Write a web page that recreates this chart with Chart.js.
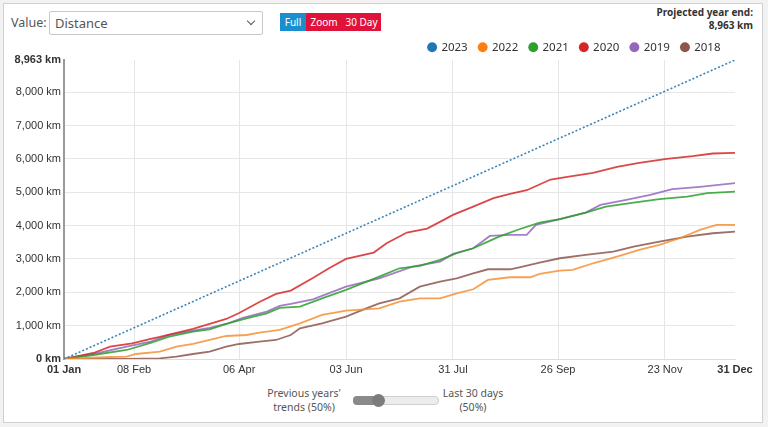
<!DOCTYPE html>
<html>
<head>
<meta charset="utf-8">
<script src="https://cdn.jsdelivr.net/npm/chart.js@4.4.0/dist/chart.umd.min.js"></script>
<style>
  html, body { margin: 0; padding: 0; background: #f2f2f2; }
  body { width: 768px; height: 427px; position: relative; overflow: hidden; font-family: "Noto Sans", "Open Sans", sans-serif; }
  #panel { position: absolute; left: 3px; top: 3px; width: 758px; height: 418px; background: #fff; border: 1px solid #d0d0d0; }
  .abs { position: absolute; }
  #valueLbl { left: 11px; top: 14px; font-size: 12.5px; color: #555; }
  #sel { left: 49px; top: 11px; width: 212px; height: 22px; border: 1px solid #c8c8c8; border-radius: 2px; background: #fff; }
  #sel span { position: absolute; left: 5px; top: 2px; font-size: 13px; color: #555; }
  #chev { position: absolute; right: 8px; top: 6px; width: 5px; height: 5px; border-right: 1.6px solid #555; border-bottom: 1.6px solid #555; transform: rotate(45deg); }
  .btn { top: 13px; height: 18px; line-height: 18px; font-size: 10px; color: #fff; text-align: center; }
  #bFull { left: 280px; width: 26px; background: #1b8fce; }
  #bZoom { left: 306px; width: 36px; background: #e0123a; }
  #b30 { left: 342px; width: 39px; background: #e0123a; }
  #proj { right: 15px; top: 6px; text-align: right; font-size: 10px; font-weight: bold; color: #333; line-height: 13px; }
  .slabel { font-size: 10.5px; color: #555; text-align: center; line-height: 14px; }
  #sl1 { left: 254px; top: 386px; width: 100px; }
  #sl2 { left: 423px; top: 386px; width: 100px; }
  #track { left: 353px; top: 396px; width: 84px; height: 7px; border-radius: 4px; background: #ececec; border: 1px solid #d0d0d0; }
  #fill { left: 353px; top: 396px; width: 26px; height: 9px; border-radius: 4px; background: #8a8a8a; }
  #thumb { left: 372px; top: 394px; width: 13px; height: 13px; border-radius: 50%; background: #7c7c7c; }
  #wrap { position: absolute; left: 0; top: 30px; width: 760px; height: 355px; }
</style>
</head>
<body>
<div id="panel"></div>
<div class="abs" id="valueLbl">Value:</div>
<div class="abs" id="sel"><span>Distance</span><div id="chev"></div></div>
<div class="abs btn" id="bFull">Full</div>
<div class="abs btn" id="bZoom">Zoom</div>
<div class="abs btn" id="b30">30 Day</div>
<div class="abs" id="proj">Projected year end:<br>8,963 km</div>
<div id="wrap"><canvas id="c" width="760" height="355"></canvas></div>
<div class="abs slabel" id="sl1">Previous years'<br>trends (50%)</div>
<div class="abs" id="track"></div>
<div class="abs" id="fill"></div>
<div class="abs" id="thumb"></div>
<div class="abs slabel" id="sl2">Last 30 days<br>(50%)</div>
<script>
// ---- data (day of year, cumulative km) ----
const xTickDays = [0, 38, 95, 153, 211, 268, 326, 364];
const xTickLabels = ["01 Jan", "08 Feb", "06 Apr", "03 Jun", "31 Jul", "26 Sep", "23 Nov", "31 Dec"];
const yTickValues = [0, 1000, 2000, 3000, 4000, 5000, 6000, 7000, 8000, 8963];

const days2023 = [0, 364];
const km2023 = [0, 8963];

const days2022 = [0, 25, 34, 39, 52, 61, 70, 79, 88, 99, 106, 117, 128, 140, 153, 171, 182, 193, 204, 213, 222, 230, 242, 253, 258, 269, 276, 287, 300, 312, 323, 334, 345, 354, 364];
const km2022 = [0, 60, 70, 150, 220, 370, 450, 570, 690, 720, 790, 870, 1070, 1320, 1450, 1520, 1720, 1820, 1820, 1970, 2090, 2370, 2450, 2450, 2550, 2650, 2670, 2870, 3070, 3270, 3420, 3620, 3870, 4020, 4020];

const days2021 = [0, 16, 34, 47, 57, 70, 79, 88, 99, 110, 117, 128, 140, 153, 171, 182, 193, 204, 213, 222, 230, 236, 247, 258, 269, 283, 294, 309, 323, 338, 349, 364];
const km2021 = [0, 120, 270, 480, 670, 820, 890, 1050, 1220, 1370, 1530, 1570, 1820, 2070, 2470, 2720, 2790, 2970, 3170, 3320, 3520, 3670, 3890, 4090, 4190, 4390, 4570, 4690, 4790, 4870, 4970, 5020];

const days2020 = [0, 16, 25, 37, 47, 52, 70, 79, 88, 95, 106, 115, 123, 135, 144, 153, 168, 175, 186, 197, 206, 211, 222, 233, 242, 251, 264, 273, 287, 300, 312, 327, 341, 352, 364];
const km2020 = [0, 180, 370, 470, 600, 660, 900, 1050, 1200, 1380, 1710, 1950, 2050, 2430, 2730, 3000, 3190, 3470, 3790, 3910, 4170, 4320, 4570, 4820, 4950, 5060, 5380, 5460, 5580, 5760, 5880, 6000, 6080, 6160, 6180];

const days2019 = [0, 16, 34, 47, 57, 70, 79, 88, 97, 110, 117, 123, 135, 153, 171, 189, 204, 211, 222, 231, 242, 251, 256, 269, 283, 291, 305, 318, 330, 345, 364];
const km2019 = [0, 150, 370, 520, 720, 850, 930, 1050, 1230, 1420, 1590, 1650, 1790, 2170, 2420, 2770, 2920, 3150, 3320, 3690, 3720, 3720, 4020, 4190, 4390, 4620, 4770, 4920, 5090, 5160, 5270];

const days2018 = [0, 34, 52, 61, 70, 79, 88, 95, 106, 115, 123, 128, 140, 153, 164, 171, 182, 193, 204, 213, 222, 230, 242, 247, 258, 269, 283, 298, 309, 323, 338, 352, 364];
const km2018 = [0, 0, 20, 70, 150, 220, 370, 450, 520, 570, 720, 920, 1070, 1270, 1520, 1670, 1820, 2170, 2320, 2420, 2570, 2690, 2690, 2750, 2890, 3020, 3120, 3220, 3370, 3520, 3670, 3770, 3820];

const pts = (d, k) => d.map((x, i) => ({ x: x, y: k[i] }));
const line = (label, d, k, color, lineColor, extra) => Object.assign({
  label: label, data: pts(d, k), borderColor: lineColor, backgroundColor: color,
  borderWidth: 1.8, pointRadius: 0, pointHoverRadius: 0, tension: 0, fill: false
}, extra || {});

const datasets = [
  line("2023", days2023, km2023, "#1f77b4", "#3b84b8", { borderDash: [2, 2], borderWidth: 1.6 }),
  line("2022", days2022, km2022, "#ff7f0e", "rgba(245,145,50,0.85)"),
  line("2021", days2021, km2021, "#2ca02c", "rgba(44,160,44,0.85)"),
  line("2020", days2020, km2020, "#d62728", "rgba(214,39,40,0.85)"),
  line("2019", days2019, km2019, "#9467bd", "rgba(148,103,189,0.85)"),
  line("2018", days2018, km2018, "#8c564b", "rgba(140,86,75,0.85)")
];

const fmt = v => v.toLocaleString("en-US") + " km";
const baseGen = Chart.defaults.plugins.legend.labels.generateLabels;

new Chart(document.getElementById("c"), {
  type: "line",
  data: { datasets: datasets },
  options: {
    responsive: false,
    animation: false,
    events: [],
    layout: { padding: { left: 0, right: 25, top: 0, bottom: 0 } },
    plugins: {
      tooltip: { enabled: false },
      legend: {
        position: "top",
        align: "end",
        labels: {
          usePointStyle: true,
          pointStyle: "circle",
          boxWidth: 7,
          boxHeight: 7,
          padding: 11.5,
          color: "#333",
          font: { family: "'Noto Sans', sans-serif", size: 11.5 },
          generateLabels: chart => baseGen(chart).map(l => Object.assign(l, { lineWidth: 0, lineDash: [], strokeStyle: "rgba(0,0,0,0)" }))
        }
      }
    },
    scales: {
      x: {
        type: "linear", min: 0, max: 364,
        afterBuildTicks: s => { s.ticks = xTickDays.map(v => ({ value: v })); },
        afterFit: s => { s.height = 26; },
        ticks: {
          autoSkip: false, maxRotation: 0, padding: 4, color: "#333",
          callback: (v, i) => xTickLabels[i],
          font: ctx => ({ family: "'Liberation Sans', Arial, sans-serif", size: 11,
            weight: (ctx.index === 0 || ctx.index === xTickDays.length - 1) ? "bold" : "normal" })
        },
        grid: {
          drawTicks: false,
          color: ctx => (ctx.index === 0 || ctx.index === xTickDays.length - 1) ? "rgba(0,0,0,0)" : "#e6e6e6"
        },
        border: { color: "#dcdcdc", width: 1 }
      },
      y: {
        type: "linear", min: 0, max: 8963,
        afterBuildTicks: s => { s.ticks = yTickValues.map(v => ({ value: v })); },
        afterFit: s => { s.width = 64; },
        ticks: {
          padding: 3, color: "#333",
          callback: v => fmt(v),
          font: ctx => ({ family: "'Liberation Sans', Arial, sans-serif", size: 11,
            weight: (ctx.index === 0 || ctx.index === yTickValues.length - 1) ? "bold" : "normal" })
        },
        grid: {
          drawTicks: false,
          color: ctx => (ctx.index === 0 || ctx.index === yTickValues.length - 1) ? "rgba(0,0,0,0)" : "#e6e6e6"
        },
        border: { color: "#9a9a9a", width: 2 }
      }
    }
  },
  plugins: [{
    id: "legendTweak",
    beforeInit(chart) {
      const lg = chart.legend;
      const f = lg.fit;
      lg.fit = function () { f.call(this); this.height = 30; };
    },
    afterLayout(chart) {
      chart.legend.right -= 3;
    }
  }]
});
</script>
</body>
</html>
